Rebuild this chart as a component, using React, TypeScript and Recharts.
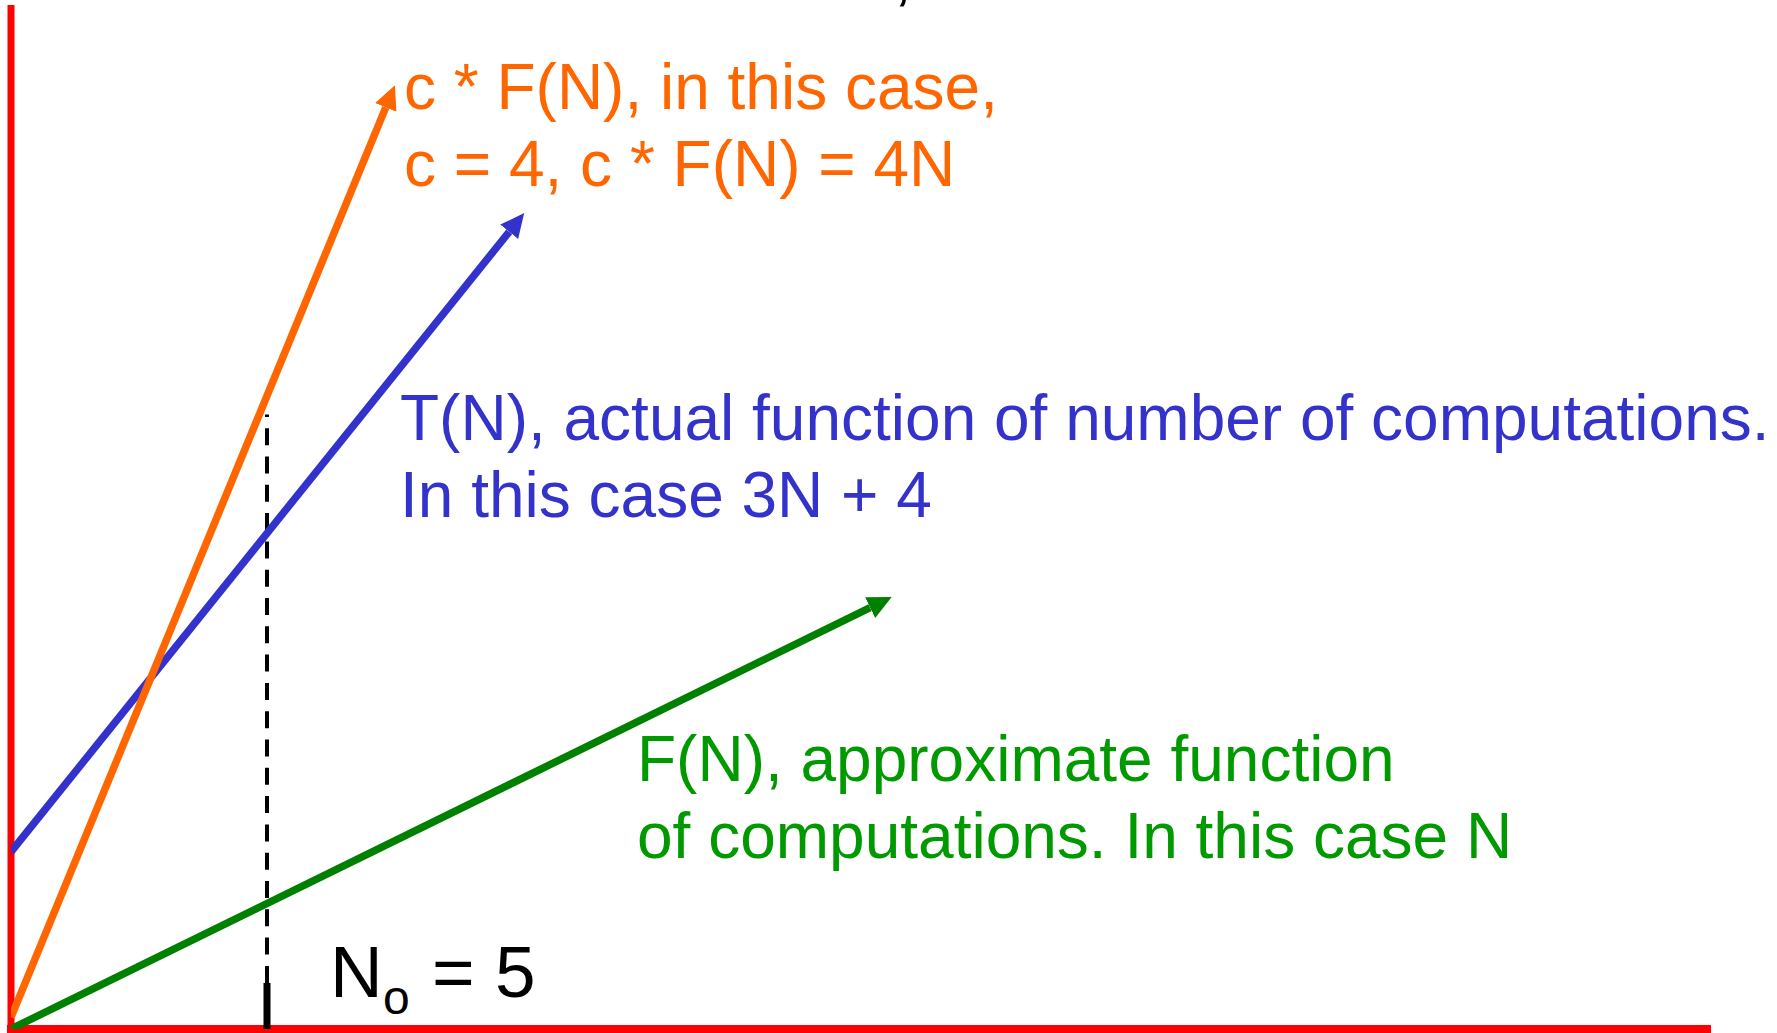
import React from 'react';
import { LineChart, Line, XAxis, YAxis, ReferenceLine } from 'recharts';

// ---- data (schematic units: N on x, computations on y) ----
const X_MAX = 33.125;
const Y_MAX = 20;
const N0 = 5;
const N0_GUIDE_TOP = 12;
const N0_TICK_TOP = 0.9;

const ORANGE_N = [0, 7.32];
const ORANGE_V = [0.23, 18.0];
const BLUE_N = [0, 9.73];
const BLUE_V = [3.46, 15.57];
const GREEN_N = [0, 16.78];
const GREEN_V = [0, 8.23];

const ORANGE_LABEL = ['c * F(N), in this case,', 'c = 4, c * F(N) = 4N'];
const BLUE_LABEL = ['T(N), actual function of number of computations.', 'In this case 3N + 4'];
const GREEN_LABEL = ['F(N), approximate function', 'of computations. In this case N'];

const ORANGE = '#FF6600';
const BLUE = '#3333CC';
const GREEN = '#008000';
const GREEN_TEXT = '#009900';
const RED = '#FF0000';

const W = 1777;
const H = 1033;
const FONT = '"Liberation Sans", Arial, sans-serif';

const toRows = (ns: number[], vs: number[]) => ns.map((n, i) => ({ n, v: vs[i] }));

const Arrow = ({ id, color }: { id: string; color: string }) => (
  <marker
    id={id}
    markerUnits="userSpaceOnUse"
    markerWidth={30}
    markerHeight={30}
    viewBox="0 -15 30 30"
    refX={0}
    refY={0}
    orient="auto"
  >
    <path d="M0,-11.5 L24,0 L0,11.5 Z" fill={color} />
  </marker>
);

export default function App() {
  return (
    <div style={{ position: 'absolute', left: 0, top: 0, width: W, height: H, background: '#fff', overflow: 'hidden' }}>
      <svg width={0} height={0} style={{ position: 'absolute' }}>
        <defs>
          <Arrow id="arrow-orange" color={ORANGE} />
          <Arrow id="arrow-blue" color={BLUE} />
          <Arrow id="arrow-green" color={GREEN} />
        </defs>
      </svg>
      <LineChart width={W} height={H} margin={{ top: 5, left: 11, right: 70, bottom: 4 }}>
        <XAxis dataKey="n" type="number" domain={[0, X_MAX]} allowDataOverflow hide />
        <YAxis type="number" domain={[0, Y_MAX]} allowDataOverflow hide />
        {/* axes drawn as red lines */}
        <ReferenceLine
          segment={[{ x: 0, y: 0 }, { x: 0, y: Y_MAX }]}
          stroke={RED}
          strokeWidth={7}
          ifOverflow="visible"
        />
        <ReferenceLine
          segment={[{ x: 0, y: 0 }, { x: X_MAX, y: 0 }]}
          stroke={RED}
          strokeWidth={8}
          strokeLinecap="square"
          ifOverflow="visible"
        />
        <ReferenceLine
          segment={[{ x: N0, y: N0_TICK_TOP }, { x: N0, y: N0_GUIDE_TOP }]}
          stroke="#000"
          strokeWidth={4}
          strokeDasharray="17 11.3"
          ifOverflow="visible"
        />
        <ReferenceLine
          segment={[{ x: N0, y: 0 }, { x: N0, y: N0_TICK_TOP }]}
          stroke="#000"
          strokeWidth={7}
          ifOverflow="visible"
        />
        <Line
          data={toRows(GREEN_N, GREEN_V)}
          dataKey="v"
          stroke={GREEN}
          strokeWidth={7.5}
          dot={false}
          activeDot={false}
          isAnimationActive={false}
          markerEnd="url(#arrow-green)"
        />
        <Line
          data={toRows(BLUE_N, BLUE_V)}
          dataKey="v"
          stroke={BLUE}
          strokeWidth={7.5}
          dot={false}
          activeDot={false}
          isAnimationActive={false}
          markerEnd="url(#arrow-blue)"
        />
        <Line
          data={toRows(ORANGE_N, ORANGE_V)}
          dataKey="v"
          stroke={ORANGE}
          strokeWidth={7.5}
          dot={false}
          activeDot={false}
          isAnimationActive={false}
          markerEnd="url(#arrow-orange)"
        />
      </LineChart>
      <svg
        width={W}
        height={H}
        style={{ position: 'absolute', left: 0, top: 0, pointerEvents: 'none' }}
        fontFamily={FONT}
      >
        <text x={894} y={-2} fontSize={64} fill="#000">,</text>
        <text x={404} y={109} fontSize={64} fill={ORANGE}>{ORANGE_LABEL[0]}</text>
        <text x={404} y={186} fontSize={64} fill={ORANGE}>{ORANGE_LABEL[1]}</text>
        <text x={400} y={440} fontSize={64} fill={BLUE}>{BLUE_LABEL[0]}</text>
        <text x={400} y={517} fontSize={64} fill={BLUE}>{BLUE_LABEL[1]}</text>
        <text x={637} y={781} fontSize={64} fill={GREEN_TEXT}>{GREEN_LABEL[0]}</text>
        <text x={637} y={858} fontSize={64} fill={GREEN_TEXT}>{GREEN_LABEL[1]}</text>
        <text x={330} y={997} fontSize={73} fill="#000">N</text>
        <text x={383} y={1014} fontSize={48} fill="#000">o</text>
        <text x={432} y={997} fontSize={73} fill="#000">= 5</text>
      </svg>
    </div>
  );
}
